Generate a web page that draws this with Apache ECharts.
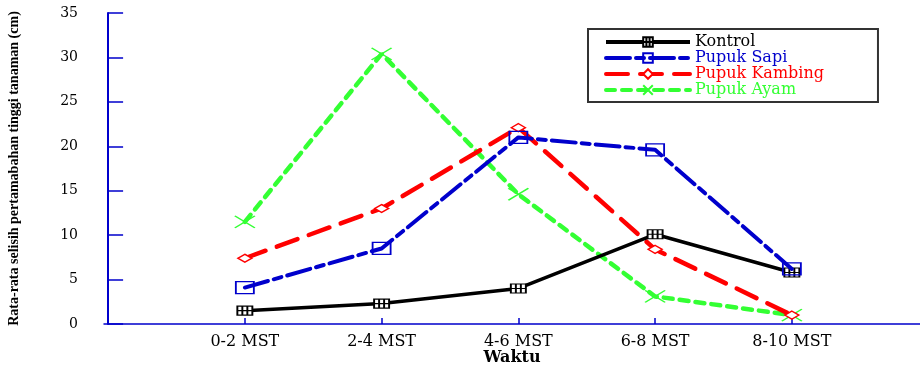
<!DOCTYPE html>
<html>
<head>
<meta charset="utf-8">
<script src="https://cdn.jsdelivr.net/npm/echarts@6/dist/echarts.min.js"></script>
<style>
  html, body { margin: 0; padding: 0; background: #fff; }
  #chart { width: 920px; height: 367px; }
</style>
</head>
<body>
<div id="chart"></div>
<script>
const categories = ['0-2 MST', '2-4 MST', '4-6 MST', '6-8 MST', '8-10 MST'];
const kontrol = [1.5, 2.3, 4.0, 10.1, 5.8];
const pupukSapi = [4.1, 8.5, 21.0, 19.6, 6.2];
const pupukKambing = [7.4, 13.0, 22.1, 8.4, 1.0];
const pupukAyam = [11.5, 30.4, 14.6, 3.1, 1.0];

const serif = 'Liberation Serif';
const wide = 'DejaVu Serif';
const axisBlue = '#0000cc';

function toPoints(vals) {
  return vals.map((v, i) => [i + 1, v]);
}

const chartDom = document.getElementById('chart');
const myChart = echarts.init(chartDom);

const option = {
  animation: false,
  backgroundColor: '#fff',
  grid: { left: 104, right: 0, top: 13, bottom: 43, outerBoundsMode: 'none' },
  legend: {
    orient: 'vertical',
    left: 588,
    top: 29,
    padding: [5, 54, 4, 16],
    itemGap: 0,
    itemWidth: 84,
    itemHeight: 12,
    backgroundColor: '#fff',
    borderColor: '#333',
    borderWidth: 2,
    lineStyle: { width: 4 },
    textStyle: { fontFamily: wide, fontSize: 16, lineHeight: 15 },
    data: [
      { name: 'Kontrol', textStyle: { color: '#000' } },
      { name: 'Pupuk Sapi', textStyle: { color: '#0000cc' } },
      { name: 'Pupuk Kambing', textStyle: { color: '#ff0000' } },
      { name: 'Pupuk Ayam', textStyle: { color: '#33ff33' } }
    ]
  },
  xAxis: {
    type: 'value',
    min: -0.03,
    max: 5.937,
    name: 'Waktu',
    nameLocation: 'middle',
    nameGap: 26,
    nameMoveOverlap: false,
    nameTextStyle: { fontFamily: wide, fontSize: 16, fontWeight: 'bold', color: '#000' },
    splitLine: { show: false },
    axisLine: { show: true, lineStyle: { color: axisBlue, width: 1.5 } },
    axisTick: {
      show: true,
      inside: true,
      length: 6,
      customValues: [1, 2, 3, 4, 5],
      lineStyle: { color: axisBlue, width: 1.5 }
    },
    axisLabel: {
      customValues: [1, 2, 3, 4, 5],
      margin: 10,
      fontFamily: wide,
      fontSize: 16,
      color: '#000',
      formatter: v => categories[Math.round(v) - 1] || ''
    }
  },
  yAxis: {
    type: 'value',
    min: 0,
    max: 35,
    interval: 5,
    name: 'Rata-rata selisih pertamabahan tinggi tanaman (cm)',
    nameLocation: 'middle',
    nameGap: 83,
    nameMoveOverlap: false,
    nameTextStyle: { fontFamily: serif, fontSize: 14, fontWeight: 'bold', color: '#000' },
    splitLine: { show: false },
    axisLine: { show: true, lineStyle: { color: axisBlue, width: 2 } },
    axisTick: { show: true, inside: true, length: 15, lineStyle: { color: axisBlue, width: 1.5 } },
    axisLabel: { margin: 26, fontFamily: wide, fontSize: 14, color: '#000' }
  },
  series: [
    {
      name: 'Pupuk Ayam',
      type: 'line',
      z: 2,
      data: toPoints(pupukAyam),
      symbol: 'path://M0,0L20,12M20,0L0,12',
      symbolSize: [20, 12],
      lineStyle: { color: '#33ff33', width: 4.5, type: [9, 7], cap: 'round' },
      itemStyle: { color: 'rgba(0,0,0,0)', borderColor: '#33ff33', borderWidth: 1.5 }
    },
    {
      name: 'Pupuk Kambing',
      type: 'line',
      z: 3,
      data: toPoints(pupukKambing),
      symbol: 'diamond',
      symbolSize: [14, 8],
      lineStyle: { color: '#ff0000', width: 4.5, type: [22, 12], cap: 'round' },
      itemStyle: { color: '#fff', borderColor: '#ff0000', borderWidth: 1.5 }
    },
    {
      name: 'Kontrol',
      type: 'line',
      z: 4,
      data: toPoints(kontrol),
      symbol: 'path://M0,0H15V9H0Z M0,4.5H15 M5,0V9 M10,0V9',
      symbolSize: [15, 9],
      lineStyle: { color: '#000', width: 3.5 },
      itemStyle: { color: '#fff', borderColor: '#000', borderWidth: 1.5 }
    },
    {
      name: 'Pupuk Sapi',
      type: 'line',
      z: 5,
      data: toPoints(pupukSapi),
      symbol: 'rect',
      symbolSize: [18, 12],
      lineStyle: { color: '#0000cc', width: 4, type: [24, 6, 8, 6], cap: 'round' },
      itemStyle: { color: 'rgba(0,0,0,0)', borderColor: '#0000cc', borderWidth: 1.5 }
    }
  ]
};

option && myChart.setOption(option);
</script>
</body>
</html>
